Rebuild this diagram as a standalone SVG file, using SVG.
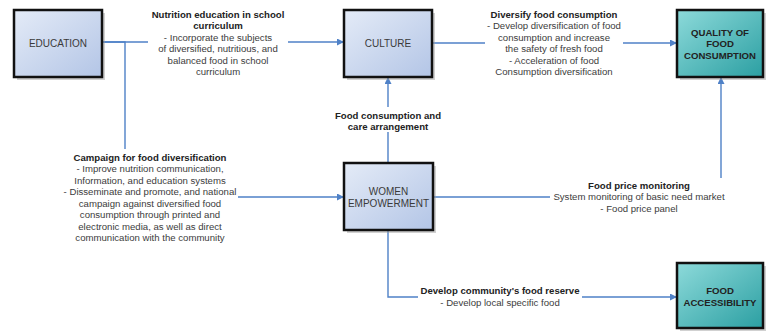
<svg xmlns="http://www.w3.org/2000/svg" width="769" height="334" viewBox="0 0 769 334">
<style>
.bg{fill:#ffffff}
.box{stroke:#111111;stroke-width:2.5}
.blue{fill:url(#gBlue)}
.teal{fill:url(#gTeal)}
.sh{fill:#9a9a9a;opacity:0.45}
.bt{font-family:"Liberation Sans",Arial,sans-serif;font-size:10px;fill:#3a3a3a;text-anchor:middle}
.btb{font-family:"Liberation Sans",Arial,sans-serif;font-size:9.6px;font-weight:bold;fill:#222222;text-anchor:middle}
.lt{font-family:"Liberation Sans",Arial,sans-serif;font-size:9.6px;fill:#3c3c3c;text-anchor:middle}
.lh{font-family:"Liberation Sans",Arial,sans-serif;font-size:9.6px;font-weight:bold;fill:#222222;text-anchor:middle}
.con{fill:none;stroke:#4f81c7;stroke-width:1.4}
.lbg{fill:#ffffff}
</style>
<defs>
<linearGradient id="gBlue" x1="0" y1="0" x2="1" y2="1">
<stop offset="0" stop-color="#e4ebf7"/>
<stop offset="1" stop-color="#b3c5e6"/>
</linearGradient>
<linearGradient id="gTeal" x1="0" y1="0" x2="1" y2="1">
<stop offset="0" stop-color="#8ddada"/>
<stop offset="1" stop-color="#2b9fa2"/>
</linearGradient>
<marker id="arr" viewBox="0 0 10 10" refX="10" refY="5" markerWidth="7" markerHeight="7" orient="auto" markerUnits="userSpaceOnUse">
<path d="M0,0 L10,5 L0,10 z" fill="#4f81c7"/>
</marker>
</defs>
<rect class="bg" x="0" y="0" width="769" height="334"/>

<g id="connectors">
<path class="con" d="M102,42 H344" marker-end="url(#arr)"/>
<path class="con" d="M102,42 H125 V197 H344" marker-end="url(#arr)"/>
<path class="con" d="M432,43 H677" marker-end="url(#arr)"/>
<path class="con" d="M388,163 V77" marker-end="url(#arr)"/>
<path class="con" d="M433,197 H721 V77" marker-end="url(#arr)"/>
<path class="con" d="M388,230 V297 H677" marker-end="url(#arr)"/>
</g>

<g id="label-nutrition">
<rect class="lbg" x="148" y="5" width="140" height="72"/>
<text class="lh" x="218" y="17.5">Nutrition education in school</text>
<text class="lh" x="218" y="29">curriculum</text>
<text class="lt" x="218" y="40.5">- Incorporate the subjects</text>
<text class="lt" x="218" y="52">of diversified, nutritious, and</text>
<text class="lt" x="218" y="63.5">balanced food in school</text>
<text class="lt" x="218" y="75">curriculum</text>
</g>

<g id="label-diversify">
<rect class="lbg" x="485" y="5" width="138" height="72"/>
<text class="lh" x="554" y="17.5">Diversify food consumption</text>
<text class="lt" x="554" y="29">- Develop diversification of food</text>
<text class="lt" x="554" y="40.5">consumption and increase</text>
<text class="lt" x="554" y="52">the safety of fresh food</text>
<text class="lt" x="554" y="63.5">- Acceleration of food</text>
<text class="lt" x="554" y="75">Consumption diversification</text>
</g>

<g id="label-campaign">
<rect class="lbg" x="60" y="149" width="178" height="95"/>
<text class="lh" x="150" y="160.5">Campaign for food diversification</text>
<text class="lt" x="150" y="172">- Improve nutrition communication,</text>
<text class="lt" x="150" y="183.5">Information, and education systems</text>
<text class="lt" x="150" y="195">- Disseminate and promote, and national</text>
<text class="lt" x="150" y="206.5">campaign against diversified food</text>
<text class="lt" x="150" y="218">consumption through printed and</text>
<text class="lt" x="150" y="229.5">electronic media, as well as direct</text>
<text class="lt" x="150" y="241">communication with the community</text>
</g>

<g id="label-care">
<rect class="lbg" x="330" y="107" width="116" height="25"/>
<text class="lh" x="388" y="118.5">Food consumption and</text>
<text class="lh" x="388" y="130">care arrangement</text>
</g>

<g id="label-price">
<rect class="lbg" x="550" y="178" width="182" height="36"/>
<text class="lh" x="639" y="188.5">Food price monitoring</text>
<text class="lt" x="639" y="200">System monitoring of basic need market</text>
<text class="lt" x="639" y="211.5">- Food price panel</text>
</g>

<g id="label-reserve">
<rect class="lbg" x="418" y="283" width="164" height="25"/>
<text class="lh" x="500" y="294">Develop community's food reserve</text>
<text class="lt" x="500" y="305.5">- Develop local specific food</text>
</g>

<g id="node-education">
<rect class="sh" x="17" y="13" width="88" height="67"/>
<rect class="box blue" x="14" y="10" width="88" height="67"/>
<text class="bt" x="58" y="46.5">EDUCATION</text>
</g>

<g id="node-culture">
<rect class="sh" x="347" y="13" width="88" height="67"/>
<rect class="box blue" x="344" y="10" width="88" height="67"/>
<text class="bt" x="388" y="46.5">CULTURE</text>
</g>

<g id="node-quality">
<rect class="sh" x="680" y="13" width="86" height="67"/>
<rect class="box teal" x="677" y="10" width="86" height="67"/>
<text class="btb" x="720" y="35.5">QUALITY OF</text>
<text class="btb" x="720" y="47">FOOD</text>
<text class="btb" x="720" y="58.5">CONSUMPTION</text>
</g>

<g id="node-women">
<rect class="sh" x="347" y="166" width="89" height="67"/>
<rect class="box blue" x="344" y="163" width="89" height="67"/>
<text class="bt" x="388.5" y="194.5">WOMEN</text>
<text class="bt" x="388.5" y="206.5">EMPOWERMENT</text>
</g>

<g id="node-access">
<rect class="sh" x="680" y="266" width="86" height="65"/>
<rect class="box teal" x="677" y="263" width="86" height="65"/>
<text class="btb" x="720" y="293.5">FOOD</text>
<text class="btb" x="720" y="306">ACCESSIBILITY</text>
</g>
</svg>
